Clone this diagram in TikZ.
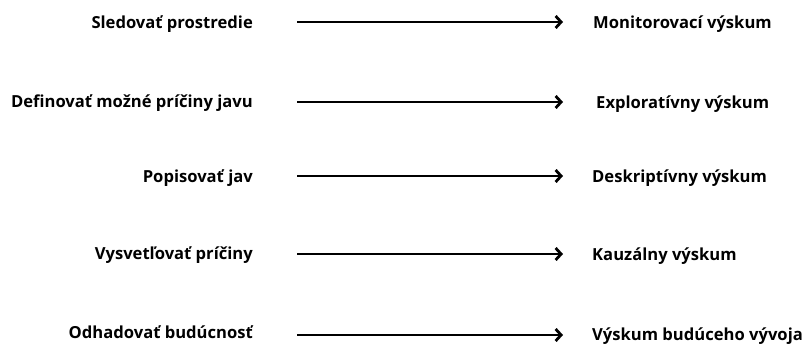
\documentclass[tikz,border=0pt]{standalone}
\usepackage{fontspec}
\setmainfont{Open Sans}
\usetikzlibrary{arrows.meta}
\begin{document}
\begin{tikzpicture}[x=1pt,y=-1pt,
  lefttext/.style={anchor=east,font=\bfseries\fontsize{16.6}{19}\selectfont,inner sep=0pt},
  righttext/.style={anchor=west,font=\bfseries\fontsize{16.6}{19}\selectfont,inner sep=0pt},
  conn/.style={line width=2.4pt,-{Straight Barb[length=5.5pt,width=12pt,line width=2.8pt]}}]
\useasboundingbox (0,0) rectangle (806,343);
\node[lefttext] (l1) at (253,24) {Sledovať prostredie};
\node[lefttext] (l2) at (253,103) {Definovať možné príčiny javu};
\node[lefttext] (l3) at (253,178) {Popisovať jav};
\node[lefttext] (l4) at (253,255) {Vysvetľovať príčiny};
\node[lefttext] (l5) at (253,332) {Odhadovať budúcnosť};
\node[righttext] (r1) at (593,24) {Monitorovací výskum};
\node[righttext] (r2) at (596,104) {Exploratívny výskum};
\node[righttext] (r3) at (592,178) {Deskriptívny výskum};
\node[righttext] (r4) at (592,256) {Kauzálny výskum};
\node[righttext] (r5) at (592,336) {Výskum budúceho vývoja};
\coordinate (a1s) at (297,22);  \coordinate (a1e) at (563,22);
\coordinate (a2s) at (297,102); \coordinate (a2e) at (563,102);
\coordinate (a3s) at (297,176); \coordinate (a3e) at (563,176);
\coordinate (a4s) at (297,254); \coordinate (a4e) at (563,254);
\coordinate (a5s) at (297,335); \coordinate (a5e) at (563,335);
\draw[conn] (a1s) -- (a1e);
\draw[conn] (a2s) -- (a2e);
\draw[conn] (a3s) -- (a3e);
\draw[conn] (a4s) -- (a4e);
\draw[conn] (a5s) -- (a5e);
\end{tikzpicture}
\end{document}
